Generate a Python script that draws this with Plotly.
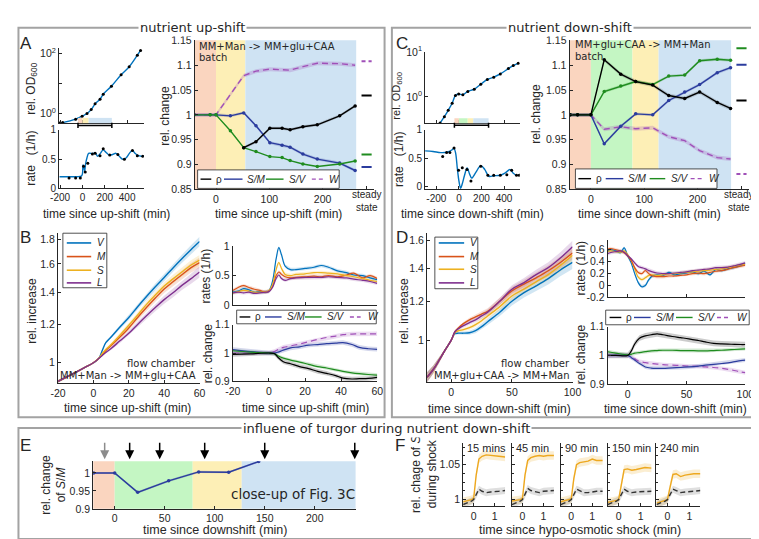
import plotly.graph_objects as go

W, H = 759, 539
def fx(px): return px / W
def fy(py): return 1 - py / H

SANS = "Liberation Sans, Arial, sans-serif"
DJV = "DejaVu Sans, sans-serif"
INK = "#262626"
FRAME = "#a3a3a3"

C_RHO, C_SM, C_SV, C_W = "#000000", "#2b3c9e", "#1f8c1f", "#a050b8"
C_V, C_M, C_S, C_L = "#0072BD", "#D95319", "#EDB120", "#7E2F8E"
C_FS, C_FD = "#EDA820", "#333333"
BG_OR, BG_YE, BG_BL, BG_GR = "#fad5bf", "#fdefb6", "#cfe3f3", "#c4f6c3"

# ---------------- data ----------------
up_edges = [-40, 0, 55, 263]
up_cols = [BG_OR, BG_YE, BG_BL]
down_edges = [-40, 0, 78, 127, 263]
down_cols = [BG_OR, BG_GR, BG_YE, BG_BL]

# A: batch up-shift
tA_od = [-205, -177, -61, -3, 41, 78, 113, 157, 186, 259, 346, 418, 491, 520]
odA = [0.48, 0.50, 0.65, 0.81, 1.0, 1.35, 2.1, 3.0, 4.4, 8.1, 19.5, 36, 87, 126]
tA_rate = [-205, -150, -100, -50, -10, 0, 5, 12, 20, 28, 40, 55, 75, 95, 115, 135, 160, 185,
           210, 240, 270, 300, 330, 360, 390, 420, 447, 470, 500, 530, 550]
rateA = [0.2, 0.2, 0.2, 0.2, 0.21, 0.25, 0.4, 0.36, 0.3, 0.42, 0.52, 0.6, 0.6, 0.6, 0.61, 0.55,
         0.6, 0.66, 0.62, 0.57, 0.58, 0.6, 0.55, 0.5, 0.52, 0.6, 0.65, 0.6, 0.56, 0.55, 0.55]
tA_rdot = [-120, -61, -19, 10, 25, 48, 89, 113, 157, 186, 244, 317, 375, 447, 491, 540]
rateA_dot = [0.18, 0.18, 0.18, 0.38, 0.28, 0.43, 0.59, 0.6, 0.56, 0.68, 0.57, 0.58, 0.5, 0.65, 0.56, 0.55]

tA = [-41, -11, 0, 27, 52, 75, 101, 124, 139, 163, 190, 232, 261]
tA_rho = [52, 75, 101, 124, 139, 163, 190, 232, 261]
rhoA = [0.934, 0.946, 0.973, 0.973, 0.970, 0.976, 0.980, 0.998, 1.018]
smA = [1.0, 1.0, 1.0, 0.998, 1.004, 0.978, 0.944, 0.939, 0.935, 0.921, 0.911, 0.903, 0.888]
svA = [1.0, 1.0, 1.0, 0.968, 0.934, 0.926, 0.916, 0.914, 0.908, 0.901, 0.896, 0.901, 0.907]
tA_w = [-41, -11, 0, 52, 75, 101, 124, 139, 163, 190, 232, 261]
wA = [1.0, 1.0, 1.0, 1.079, 1.088, 1.092, 1.091, 1.090, 1.097, 1.104, 1.103, 1.100]
steady_t = [273, 292]
steadyA = [1.039, 0.895, 0.920, 1.108]   # rho, S/M, S/V, W

# C: batch down-shift
tC_od = [-167, -129, -95, -60, -31, -2, 35, 79, 136, 194, 252, 309, 367, 439, 482, 526]
odC = [0.26, 0.36, 0.50, 0.72, 1.07, 1.16, 1.12, 1.32, 1.48, 1.91, 2.45, 2.75, 3.24, 4.27, 5.0, 5.6]
tC_rate = [-300, -230, -160, -100, -60, -45, -30, -14, 0, 15, 30, 50, 73, 95, 113, 150, 194, 230,
           266, 310, 367, 410, 454, 480, 510, 530]
rateC = [0.63, 0.62, 0.6, 0.61, 0.65, 0.68, 0.6, 0.32, 0.1, -0.03, 0.05, 0.2, 0.33, 0.22, 0.15,
         0.25, 0.37, 0.3, 0.18, 0.19, 0.2, 0.24, 0.3, 0.24, 0.2, 0.2]
tC_rdot = [-144, -109, -80, -43, -3, 30, 72, 107, 194, 257, 309, 367, 425, 468, 511, 535]
rateC_dot = [0.53, 0.6, 0.6, 0.68, 0.29, 0.33, 0.3, 0.1, 0.36, 0.2, 0.2, 0.2, 0.21, 0.29, 0.2, 0.2]

tC = [-39, -25, 0, 25, 56, 84, 116, 146, 176, 204, 237, 262]
rhoC = [1.0, 1.0, 1.0, 1.111, 1.082, 1.067, 1.060, 1.039, 1.033, 1.046, 1.025, 1.013]
svC = [1.0, 1.0, 1.0, 1.047, 1.058, 1.067, 1.061, 1.078, 1.080, 1.109, 1.112, 1.110]
smC = [1.0, 1.0, 1.0, 0.942, 0.977, 1.002, 1.0, 1.029, 1.046, 1.061, 1.085, 1.095]
wC = [1.0, 1.0, 1.0, 0.971, 0.976, 0.972, 0.974, 0.956, 0.948, 0.928, 0.914, 0.911]
steadyC = [1.029, 1.101, 1.134, 0.881]

# B: flow chamber up-shift
tB = [-20, -15, -10, -5, 0, 3, 5, 7, 10, 15, 20, 25, 30, 35, 40, 45, 50, 55, 60]
V_B = [0.915, 0.935, 0.955, 0.977, 1.0, 1.02, 1.06, 1.10, 1.13, 1.185, 1.24, 1.305, 1.37, 1.435, 1.50, 1.57, 1.64, 1.71, 1.78]
M_B = [0.915, 0.935, 0.955, 0.977, 1.0, 1.02, 1.04, 1.06, 1.085, 1.13, 1.18, 1.24, 1.30, 1.36, 1.42, 1.47, 1.52, 1.57, 1.61]
S_B = [0.915, 0.935, 0.955, 0.977, 1.0, 1.02, 1.045, 1.065, 1.09, 1.14, 1.195, 1.255, 1.32, 1.38, 1.44, 1.49, 1.54, 1.59, 1.63]
L_B = [0.915, 0.935, 0.955, 0.977, 1.0, 1.02, 1.035, 1.05, 1.07, 1.11, 1.15, 1.2, 1.25, 1.3, 1.35, 1.395, 1.445, 1.49, 1.54]
errB = [0.006, 0.005, 0.004, 0.002, 0.0, 0.002, 0.004, 0.006, 0.008, 0.011, 0.014, 0.017, 0.02, 0.023, 0.026, 0.029, 0.032, 0.036, 0.04]

tB_r = [-20, -17, -14, -11, -8, -5, -2, 0, 2, 4, 5.5, 7, 9, 12, 15, 20, 25, 29, 33, 38, 43, 47, 52, 56, 60]
V_Br = [0.22, 0.24, 0.28, 0.26, 0.22, 0.23, 0.22, 0.24, 0.4, 0.78, 0.97, 0.85, 0.66, 0.6, 0.6, 0.62, 0.64, 0.67, 0.64, 0.58, 0.55, 0.51, 0.5, 0.46, 0.43]
M_Br = [0.25, 0.3, 0.33, 0.3, 0.27, 0.25, 0.22, 0.24, 0.32, 0.5, 0.56, 0.52, 0.48, 0.46, 0.47, 0.48, 0.49, 0.48, 0.5, 0.48, 0.51, 0.54, 0.46, 0.5, 0.45]
S_Br = [0.21, 0.23, 0.25, 0.24, 0.22, 0.22, 0.23, 0.24, 0.35, 0.6, 0.72, 0.62, 0.52, 0.5, 0.52, 0.53, 0.55, 0.55, 0.54, 0.53, 0.5, 0.48, 0.45, 0.42, 0.4]
L_Br = [0.21, 0.22, 0.21, 0.22, 0.2, 0.21, 0.22, 0.23, 0.3, 0.45, 0.51, 0.45, 0.42, 0.45, 0.46, 0.47, 0.47, 0.47, 0.48, 0.47, 0.46, 0.44, 0.42, 0.4, 0.37]

tB_c = [-20, -10, 0, 3, 5, 8, 12, 17, 22, 27, 32, 37, 41, 46, 50, 55, 60]
rho_Bc = [0.995, 0.997, 1.0, 0.998, 0.985, 0.969, 0.962, 0.952, 0.945, 0.935, 0.928, 0.92, 0.911, 0.908, 0.909, 0.91, 0.914]
sm_Bc = [1.012, 1.005, 1.0, 1.0, 1.003, 1.01, 1.018, 1.022, 1.028, 1.03, 1.033, 1.035, 1.037, 1.03, 1.02, 1.015, 1.013]
sv_Bc = [1.008, 1.003, 1.0, 0.998, 0.99, 0.982, 0.975, 0.968, 0.96, 0.952, 0.947, 0.94, 0.935, 0.93, 0.927, 0.924, 0.922]
w_Bc = [1.0, 1.0, 1.0, 1.005, 1.012, 1.02, 1.025, 1.032, 1.04, 1.048, 1.055, 1.06, 1.065, 1.067, 1.068, 1.068, 1.068]

# D: flow chamber down-shift
tD = [-20, -15, -10, -5, 0, 3, 6, 10, 15, 20, 25, 30, 40, 50, 60, 70, 80, 90, 100]
V_D = [0.84, 0.87, 0.91, 0.955, 1.0, 1.03, 1.033, 1.033, 1.035, 1.045, 1.065, 1.09, 1.14, 1.2, 1.25, 1.29, 1.335, 1.39, 1.44]
M_D = [0.84, 0.87, 0.91, 0.955, 1.0, 1.04, 1.06, 1.08, 1.1, 1.115, 1.13, 1.145, 1.2, 1.26, 1.3, 1.34, 1.385, 1.44, 1.505]
S_D = [0.84, 0.87, 0.91, 0.955, 1.0, 1.035, 1.045, 1.05, 1.06, 1.075, 1.095, 1.12, 1.17, 1.23, 1.27, 1.315, 1.36, 1.42, 1.49]
L_D = [0.84, 0.87, 0.91, 0.955, 1.0, 1.04, 1.055, 1.07, 1.085, 1.1, 1.12, 1.14, 1.2, 1.27, 1.31, 1.36, 1.405, 1.47, 1.55]
errD = [0.02, 0.016, 0.012, 0.006, 0.0, 0.004, 0.006, 0.008, 0.01, 0.012, 0.014, 0.016, 0.02, 0.024, 0.028, 0.032, 0.036, 0.04, 0.044]

tD_r = [-20, -15, -10, -6, -3, 0, 3, 6, 9, 12, 15, 18, 21, 25, 30, 35, 40, 45, 50, 55, 60, 65, 70, 75, 80, 85, 90, 95, 100]
V_Dr = [0.52, 0.6, 0.58, 0.55, 0.63, 0.5, 0.38, 0.2, 0.05, -0.02, 0.0, 0.1, 0.16, 0.18, 0.17, 0.22, 0.18, 0.2, 0.21, 0.23, 0.2, 0.24, 0.18, 0.27, 0.25, 0.28, 0.3, 0.33, 0.37]
M_Dr = [0.57, 0.62, 0.6, 0.58, 0.55, 0.5, 0.42, 0.3, 0.22, 0.2, 0.25, 0.2, 0.16, 0.15, 0.15, 0.16, 0.16, 0.17, 0.18, 0.2, 0.21, 0.2, 0.22, 0.24, 0.25, 0.27, 0.3, 0.32, 0.34]
S_Dr = [0.55, 0.58, 0.57, 0.56, 0.58, 0.52, 0.42, 0.28, 0.14, 0.1, 0.13, 0.17, 0.18, 0.17, 0.18, 0.2, 0.2, 0.21, 0.22, 0.23, 0.24, 0.25, 0.26, 0.27, 0.28, 0.3, 0.32, 0.34, 0.36]
L_Dr = [0.5, 0.55, 0.57, 0.58, 0.56, 0.5, 0.45, 0.38, 0.32, 0.3, 0.28, 0.25, 0.23, 0.21, 0.2, 0.2, 0.21, 0.22, 0.23, 0.25, 0.26, 0.27, 0.28, 0.3, 0.3, 0.31, 0.33, 0.35, 0.38]

tD_c = [-20, -10, 0, 3, 6, 10, 15, 20, 25, 30, 38, 45, 52, 60, 66, 73, 80, 88, 96, 100]
rho_Dc = [1.0, 1.0, 1.0, 1.015, 1.04, 1.06, 1.068, 1.072, 1.075, 1.072, 1.066, 1.062, 1.058, 1.052, 1.047, 1.042, 1.04, 1.039, 1.038, 1.038]
sv_Dc = [1.015, 1.008, 1.002, 1.004, 1.008, 1.01, 1.013, 1.016, 1.017, 1.018, 1.018, 1.017, 1.017, 1.016, 1.016, 1.017, 1.018, 1.02, 1.022, 1.023]
sm_Dc = [1.0, 1.0, 1.0, 0.993, 0.984, 0.972, 0.96, 0.956, 0.955, 0.955, 0.957, 0.958, 0.96, 0.963, 0.966, 0.969, 0.972, 0.976, 0.982, 0.984]
w_Dc = [1.0, 1.0, 1.0, 0.995, 0.988, 0.979, 0.975, 0.972, 0.97, 0.968, 0.966, 0.965, 0.963, 0.962, 0.96, 0.958, 0.955, 0.95, 0.943, 0.94]

# E: close-up of S/M
tE = [-21, 0, 23, 54, 84, 114, 144]
smE = [1.0, 1.0, 0.946, 0.978, 1.003, 1.002, 1.032]
arrows_E = [-10, 15, 45, 90, 150, 240]

# F: hypo-osmotic shocks
F_titles = ["15 mins", "45 min", "90 min", "150 min", "240 min"]
tF = [-0.5, -0.3, -0.1, 0.0, 0.12, 0.25, 0.4, 0.6, 0.8, 1.0, 1.2, 1.5]
S_F = [
    [0.997, 0.998, 1.0, 1.002, 1.035, 1.058, 1.062, 1.064, 1.063, 1.062, 1.062, 1.061],
    [0.998, 0.999, 1.0, 1.002, 1.035, 1.056, 1.060, 1.062, 1.063, 1.062, 1.063, 1.063],
    [0.997, 0.999, 1.0, 1.001, 1.030, 1.050, 1.053, 1.054, 1.055, 1.058, 1.056, 1.056],
    [0.996, 0.997, 0.999, 1.0, 1.022, 1.043, 1.044, 1.042, 1.043, 1.045, 1.046, 1.045],
    [0.995, 0.997, 0.999, 1.0, 1.018, 1.036, 1.037, 1.033, 1.035, 1.036, 1.037, 1.037],
]
D_F = [
    [0.993, 0.995, 0.998, 1.0, 1.008, 1.015, 1.012, 1.010, 1.011, 1.012, 1.012, 1.013],
    [0.993, 0.995, 0.998, 1.0, 1.008, 1.016, 1.013, 1.011, 1.010, 1.012, 1.012, 1.013],
    [0.993, 0.995, 0.998, 1.0, 1.008, 1.015, 1.013, 1.010, 1.010, 1.011, 1.012, 1.012],
    [0.993, 0.995, 0.998, 1.0, 1.008, 1.015, 1.012, 1.010, 1.011, 1.011, 1.012, 1.012],
    [0.993, 0.995, 0.998, 1.0, 1.008, 1.015, 1.013, 1.010, 1.011, 1.012, 1.012, 1.013],
]

# ---------------- helpers ----------------
def rgba(hexc, a):
    h = hexc.lstrip('#')
    return f"rgba({int(h[0:2],16)},{int(h[2:4],16)},{int(h[4:6],16)},{a})"

fig = go.Figure()
shapes, anns, lay = [], [], {}
AX = dict(showline=True, linecolor=INK, linewidth=1, ticks="inside", ticklen=3, tickcolor=INK,
          tickwidth=1, showgrid=False, zeroline=False, fixedrange=True)

def sid(i): return "" if i == 1 else str(i)

def add_axes(i, xpx, ypx, xr, yr, xt, yt, ylog=False, yminor=None, fs=10.5):
    s = sid(i)
    tf = dict(family=SANS, size=fs, color=INK)
    xa = dict(AX, domain=[fx(xpx[0]), fx(xpx[1])], range=xr, anchor="y" + s, tickfont=tf,
              tickmode="array", tickvals=xt[0], ticktext=xt[1])
    ya = dict(AX, domain=[fy(ypx[1]), fy(ypx[0])], range=yr, anchor="x" + s, tickfont=tf,
              type="log" if ylog else "linear", tickmode="array", tickvals=yt[0], ticktext=yt[1])
    if yminor:
        ya["minor"] = dict(tickmode="array", tickvals=yminor, ticks="inside", ticklen=2, tickcolor=INK)
    lay["xaxis" + s] = xa
    lay["yaxis" + s] = ya

def tr(i, x, y, color, width=1.4, dash="solid", mode="lines", msize=3.5, mcolor=None, shape="linear"):
    s = sid(i)
    fig.add_trace(go.Scatter(x=x, y=y, mode=mode, xaxis="x" + s, yaxis="y" + s,
                             line=dict(color=color, width=width, dash=dash, shape=shape),
                             marker=dict(size=msize, color=mcolor or color),
                             showlegend=False, hoverinfo="skip"))

def band(i, x, y, e, color, alpha=0.2):
    s = sid(i)
    es = e if isinstance(e, list) else [e] * len(y)
    up = [v + d for v, d in zip(y, es)]
    lo = [v - d for v, d in zip(y, es)]
    fig.add_trace(go.Scatter(x=list(x) + list(x)[::-1], y=up + lo[::-1], fill="toself",
                             fillcolor=rgba(color, alpha), line=dict(width=0), mode="lines",
                             xaxis="x" + s, yaxis="y" + s, showlegend=False, hoverinfo="skip"))

def phases(i, edges, cols, xr, y0=0, y1=1):
    s = sid(i)
    for k, c in enumerate(cols):
        a, b = max(edges[k], xr[0]), min(edges[k + 1], xr[1])
        if b > a:
            shapes.append(dict(type="rect", xref="x" + s, yref=f"y{s} domain", x0=a, x1=b,
                               y0=y0, y1=y1, fillcolor=c, line=dict(width=0), layer="below"))

def text(t, x, y, size=10.5, family=SANS, xa="center", ya="middle", angle=0, color=INK, bg=None):
    d = dict(text=t, x=fx(x), y=fy(y), xref="paper", yref="paper", showarrow=False,
             xanchor=xa, yanchor=ya, textangle=angle, font=dict(family=family, size=size, color=color))
    if bg:
        d.update(bgcolor=bg, borderpad=1)
    anns.append(d)

def pline(x0, y0, x1, y1, color=INK, width=1, dash="solid"):
    shapes.append(dict(type="line", xref="paper", yref="paper", x0=fx(x0), y0=fy(y0), x1=fx(x1),
                       y1=fy(y1), line=dict(color=color, width=width, dash=dash)))

def prect(x0, y0, x1, y1, color=INK, width=1, fill=None):
    shapes.append(dict(type="rect", xref="paper", yref="paper", x0=fx(x0), y0=fy(y1), x1=fx(x1),
                       y1=fy(y0), line=dict(color=color, width=width),
                       fillcolor=fill if fill else "rgba(0,0,0,0)"))

def legend_row(box, yc, items):
    prect(*box, color=INK, width=0.8, fill="white")
    for lx0, lx1, col, dash, lab, tx in items:
        pline(lx0, yc, lx1, yc, col, 1.4, "4px,3px" if dash else "solid")
        text(lab, tx, yc, size=10, xa="left")

def legend_col(box, lx0, lx1, tx, ys, items):
    prect(*box, color=INK, width=0.8, fill="white")
    for yc, (col, lab) in zip(ys, items):
        pline(lx0, yc, lx1, yc, col, 1.6)
        text(lab, tx, yc, size=10, xa="left")

def od_strip(i, edges, cols, xr):
    s = sid(i)
    phases(i, edges, cols, xr, 0, 0.07)
    for k in range(len(cols)):
        shapes[-1 - k]["layer"] = "above"
    for (x0, x1, y0, y1) in [(edges[0], edges[-1], -0.03, -0.03), (edges[0], edges[0], -0.065, 0.005),
                             (edges[-1], edges[-1], -0.065, 0.005)]:
        shapes.append(dict(type="line", xref="x" + s, yref=f"y{s} domain", x0=x0, x1=x1, y0=y0, y1=y1,
                           line=dict(color="black", width=1.5)))

rel_ticks = ([0.85, 0.9, 0.95, 1, 1.05, 1.1, 1.15], ["0.85", "0.9", "0.95", "1", "1.05", "1.1", "1.15"])
shift_ticks = ([0, 100, 200, 283], ["0", "100", "200", ""])
batch_ticks = ([-200, 0, 200, 400], ["-200", "0", "200", "400"])
none_x = ([-200, 0, 200, 400], ["", "", "", ""])

# ---------------- panel A ----------------
xrA = [-210, 550]
add_axes(1, (43, 130), (33, 110), xrA, [-0.32, 2.175], none_x, ([1, 10, 100], ["10<sup>0</sup>", "", "10<sup>2</sup>"]), ylog=True)
tr(1, tA_od, odA, C_V, 1.4, shape="spline")
tr(1, tA_od, odA, "black", mode="markers", msize=3)
od_strip(1, up_edges, up_cols, xrA)
add_axes(2, (43, 130), (117, 177), xrA, [0, 1], batch_ticks, ([0, 0.5, 1], ["0", "0.5", "1"]), fs=10)
tr(2, tA_rate, rateA, C_V, 1.4, shape="spline")
tr(2, tA_rdot, rateA_dot, "black", mode="markers", msize=3)

xrR = [-40, 297]
add_axes(3, (182, 366), (25, 178), xrR, [0.85, 1.15], shift_ticks, rel_ticks)
phases(3, up_edges, up_cols, xrR)
band(3, tA_w, wA, 0.004, C_W, 0.25)
band(3, tA, smA, 0.003, C_SM, 0.2)
band(3, tA_rho, rhoA, 0.003, "#000000", 0.15)
tr(3, tA_w, wA, C_W, 1.4, dash="6px,4px")
tr(3, tA, smA, C_SM, 1.4, mode="lines+markers", msize=3.5)
tr(3, tA, svA, C_SV, 1.4, mode="lines+markers", msize=3.5)
tr(3, tA_rho, rhoA, C_RHO, 1.4, mode="lines+markers", msize=3.5)
for v, c, d in zip(steadyA, [C_RHO, C_SM, C_SV, C_W], ["solid", "solid", "solid", "4px,3px"]):
    tr(3, steady_t, [v, v], c, 2, dash=d)
text("MM+Man -> MM+glu+CAA", 184, 31, 10, DJV, xa="left")
text("batch", 184, 43, 10, DJV, xa="left")
text("steady<br>state", 358, 190, 10)
legend_row((185, 158, 330, 177), 167.5, [(188, 199, C_RHO, False, "ρ", 202), (212, 231, C_SM, False, "<i>S/M</i>", 234),
                                        (255, 273, C_SV, False, "<i>S/V</i>", 277), (302, 314, C_W, True, "<i>W</i>", 318)])

# ---------------- panel C ----------------
xrC = [-300, 540]
add_axes(4, (418, 515), (37, 110), xrC, [-0.587, 1.0], ([-200, 0, 200, 400], ["", "", "", ""]), ([1, 10], ["10<sup>0</sup>", "10<sup>1</sup>"]), ylog=True)
tr(4, tC_od, odC, C_V, 1.4, shape="spline")
tr(4, tC_od, odC, "black", mode="markers", msize=3)
od_strip(4, down_edges, down_cols, xrC)
add_axes(5, (418, 515), (117, 178), xrC, [-0.05, 1], batch_ticks, ([0, 0.5, 1], ["0", "0.5", "1"]), fs=10)
tr(5, tC_rate, rateC, C_V, 1.4, shape="spline")
tr(5, tC_rdot, rateC_dot, "black", mode="markers", msize=3)

add_axes(6, (566, 750), (25, 178), xrR, [0.85, 1.15], shift_ticks, rel_ticks)
phases(6, down_edges, down_cols, xrR)
band(6, tC, wC, 0.004, C_W, 0.25)
band(6, tC, rhoC, 0.004, "#000000", 0.15)
band(6, tC, smC, 0.003, C_SM, 0.2)
band(6, tC, svC, 0.003, C_SV, 0.2)
tr(6, tC, wC, C_W, 1.4, dash="6px,4px")
tr(6, tC, smC, C_SM, 1.4, mode="lines+markers", msize=3.5)
tr(6, tC, svC, C_SV, 1.4, mode="lines+markers", msize=3.5)
tr(6, tC, rhoC, C_RHO, 1.4, mode="lines+markers", msize=3.5)
for v, c, d in zip(steadyC, [C_RHO, C_SM, C_SV, C_W], ["solid", "solid", "solid", "4px,3px"]):
    tr(6, steady_t, [v, v], c, 2, dash=d)
text("MM+glu+CAA -> MM+Man", 569, 29, 10, DJV, xa="left")
text("batch", 569, 42, 10, DJV, xa="left")
text("steady<br>state", 739, 190, 10)
legend_row((572, 157, 717, 177), 167, [(575, 588, C_RHO, False, "ρ", 591), (603, 621, C_SM, False, "<i>S/M</i>", 624),
                                       (648, 664, C_SV, False, "<i>S/V</i>", 668), (690, 703, C_W, True, "<i>W</i>", 707)])

# ---------------- panel B ----------------
add_axes(7, (42, 187), (223, 377), [-20, 60], [-0.0423, 0.2676],
         ([-20, 0, 20, 40, 60], ["-20", "0", "20", "40", "60"]),
         ([1, 1.2, 1.4, 1.6, 1.8], ["1", "1.2", "1.4", "1.6", "1.8"]), ylog=True)
for ser, col in [(L_B, C_L), (M_B, C_M), (S_B, C_S), (V_B, C_V)]:
    band(7, tB, ser, errB, col, 0.18)
for ser, col in [(V_B, C_V), (M_B, C_M), (S_B, C_S), (L_B, C_L)]:
    tr(7, tB, ser, col, 1.4, shape="spline")
legend_col((47, 223, 92, 279), 51, 76, 80, [233, 247, 261, 274],
           [(C_V, "<i>V</i>"), (C_M, "<i>M</i>"), (C_S, "<i>S</i>"), (C_L, "<i>L</i>")])
text("flow chamber", 185, 357, 10, DJV, xa="right")
text("MM+Man -> MM+glu+CAA", 185, 369, 10, DJV, xa="right")

fl_ticks = ([-20, 0, 20, 40, 60], ["-20", "0", "20", "40", "60"])
add_axes(8, (221, 369), (236, 297), [-20, 60], [0, 1], ([-20, 0, 20, 40, 60], [""] * 5), ([0, 0.5, 1], ["0", "0.5", "1"]))
for ser, col in [(V_Br, C_V), (M_Br, C_M), (S_Br, C_S), (L_Br, C_L)]:
    band(8, tB_r, ser, 0.03, col, 0.18)
for ser, col in [(V_Br, C_V), (M_Br, C_M), (S_Br, C_S), (L_Br, C_L)]:
    tr(8, tB_r, ser, col, 1.2, shape="spline")

add_axes(9, (221, 369), (317, 375), [-20, 60], [0.9, 1.1], fl_ticks, ([0.9, 1, 1.1], ["0.9", "1", "1.1"]))
for ser, col, e in [(w_Bc, C_W, 0.008), (sm_Bc, C_SM, 0.008), (sv_Bc, C_SV, 0.006), (rho_Bc, "#000000", 0.008)]:
    band(9, tB_c, ser, e, col, 0.2)
tr(9, tB_c, w_Bc, C_W, 1.2, dash="6px,4px", shape="spline")
tr(9, tB_c, sm_Bc, C_SM, 1.2, shape="spline")
tr(9, tB_c, sv_Bc, C_SV, 1.2, shape="spline")
tr(9, tB_c, rho_Bc, C_RHO, 1.2, shape="spline")
legend_row((225, 302, 368, 316), 309, [(228, 239, C_RHO, False, "ρ", 242), (254, 271, C_SM, False, "<i>S/M</i>", 274),
                                       (295, 312, C_SV, False, "<i>S/V</i>", 315), (341, 352, C_W, True, "<i>W</i>", 357)])

# ---------------- panel D ----------------
add_axes(10, (420, 569), (223, 376), [-20, 100], [-0.086, 0.218],
         ([0, 50, 100], ["0", "50", "100"]), ([1, 1.2, 1.4, 1.6], ["1", "1.2", "1.4", "1.6"]), ylog=True)
for ser, col in [(V_D, C_V), (S_D, C_S), (M_D, C_M), (L_D, C_L)]:
    band(10, tD, ser, errD, col, 0.18)
for ser, col in [(V_D, C_V), (S_D, C_S), (M_D, C_M), (L_D, C_L)]:
    tr(10, tD, ser, col, 1.4, shape="spline")
legend_col((428, 227, 472, 280), 432, 458, 462, [233, 247, 260, 274],
           [(C_V, "<i>V</i>"), (C_M, "<i>M</i>"), (C_S, "<i>S</i>"), (C_L, "<i>L</i>")])
text("flow chamber", 568, 357, 10, DJV, xa="right")
text("MM+glu+CAA -> MM+Man", 568, 369, 10, DJV, xa="right")

add_axes(11, (605, 746), (230, 289), [-17, 100], [-0.2, 0.763], ([0, 50, 100], ["", "", ""]),
         ([-0.2, 0, 0.2, 0.4, 0.6], ["-0.2", "0", "0.2", "0.4", "0.6"]))
for ser, col in [(V_Dr, C_V), (M_Dr, C_M), (S_Dr, C_S), (L_Dr, C_L)]:
    band(11, tD_r, ser, 0.03, col, 0.18)
for ser, col in [(V_Dr, C_V), (S_Dr, C_S), (M_Dr, C_M), (L_Dr, C_L)]:
    tr(11, tD_r, ser, col, 1.2, shape="spline")

add_axes(12, (605, 746), (319, 378), [-17, 100], [0.9, 1.1], ([0, 50, 100], ["0", "50", "100"]),
         ([0.9, 1, 1.1], ["0.9", "1", "1.1"]))
for ser, col, e in [(rho_Dc, "#000000", 0.01), (w_Dc, C_W, 0.007), (sm_Dc, C_SM, 0.007), (sv_Dc, C_SV, 0.006)]:
    band(12, tD_c, ser, e, col, 0.2)
tr(12, tD_c, w_Dc, C_W, 1.2, dash="6px,4px", shape="spline")
tr(12, tD_c, sm_Dc, C_SM, 1.2, shape="spline")
tr(12, tD_c, sv_Dc, C_SV, 1.2, shape="spline")
tr(12, tD_c, rho_Dc, C_RHO, 1.2, shape="spline")
legend_row((603, 302, 750, 317), 309.5, [(607, 619, C_RHO, False, "ρ", 622), (632, 649, C_SM, False, "<i>S/M</i>", 652),
                                         (675, 692, C_SV, False, "<i>S/V</i>", 695), (717, 730, C_W, True, "<i>W</i>", 735)])

# ---------------- panel E ----------------
xrE = [-21.5, 241]
add_axes(13, (78, 347), (457, 506), xrE, [0.9, 1.033], ([0, 50, 100, 150, 200], ["0", "50", "100", "150", "200"]),
         ([0.9, 0.95, 1], ["0.9", "0.95", "1"]))
phases(13, down_edges, down_cols, xrE)
band(13, tE, smE, 0.003, C_SM, 0.25)
tr(13, tE, smE, C_SM, 1.5, mode="lines+markers", msize=3.5)
text("close-up of Fig. 3C", 217, 491, 13.5, DJV, xa="left")
for k, t in enumerate(arrows_E):
    anns.append(dict(x=t, y=fy(455), xref="x13", yref="paper", text="", showarrow=True, ax=0, ay=-18,
                     arrowhead=2, arrowsize=1.2, arrowwidth=1.5, font=dict(size=10),
                     arrowcolor="#8c8c8c" if k == 0 else "black"))

# ---------------- panel F ----------------
F_x = [(457, 500), (507, 550), (557, 600), (605, 650), (655, 700)]
for k, (xp, title) in enumerate(zip(F_x, F_titles)):
    i = 14 + k
    add_axes(i, xp, (438, 503), [-0.5, 1.5], [0.991, 1.0815], ([0, 1], ["0", "1"]),
             ([1, 1.05], ["1", "1.05"] if k == 0 else ["", ""]), yminor=[1.0125, 1.025, 1.0375, 1.0625, 1.075])
    band(i, tF, S_F[k], 0.006, C_FS, 0.2)
    band(i, tF, D_F[k], 0.005, "#808080", 0.25)
    tr(i, tF, S_F[k], C_FS, 1.4)
    tr(i, tF, D_F[k], C_FD, 1.4, dash="5px,3px")
    text(title, xp[0] + 2, 444, 11, SANS, xa="left")

# ---------------- axis labels ----------------
text("rel. OD<sub>600</sub>", 15, 75, 12, angle=-90)
text("rate\u00a0\u00a0\u00a0(1/h)", 15, 146, 12, angle=-90)
text("time since up-shift (min)", 92, 203, 12)
text("rel. change", 152, 102, 12, angle=-90)
text("time since up-shift (min)", 268, 203, 12)
text("rel. OD<sub>600</sub>", 389, 82, 11, angle=-90)
text("rate\u00a0\u00a0\u00a0(1/h)", 391, 147, 12, angle=-90)
text("time since down-shift (min)", 467, 203, 12)
text("rel. change", 532, 100, 12, angle=-90)
text("time since down-shift (min)", 648, 203, 12)
text("rel. increase", 16, 303, 12, angle=-90)
text("rates (1/h)", 194, 267, 12, angle=-90)
text("rel. change", 196, 346, 12, angle=-90)
text("time since up-shift (min)", 113, 402, 12)
text("time since up-shift (min)", 295, 402, 12)
text("rel. increase", 397, 303, 12, angle=-90)
text("rates (1/h)", 578, 259, 12, angle=-90)
text("rel. change", 578, 347, 12, angle=-90)
text("time since down-shift (min)", 494, 403, 12)
text("time since down-shift (min)", 675, 403, 12)
text("rel. change<br>of <i>S</i>/<i>M</i>", 37, 481, 12, angle=-90)
text("time since downshift (min)", 203, 528, 12.5)
text("rel. chage of <i>S</i><br>during shock", 417, 471, 12, angle=-90)
text("time since hypo-osmotic shock (min)", 577, 528, 12.5)

# panel letters
for lab, x, y in [("A", 9, 28), ("B", 9, 227), ("C", 394, 28), ("D", 394, 227), ("E", 9, 441), ("F", 392, 441)]:
    text(lab, x, y, 17)

# frames + titles
prect(1.5, 12, 376.5, 412, FRAME, 2)
prect(384, 12, 757, 412, FRAME, 2)
prect(1.5, 423, 757, 537, FRAME, 2)
text("nutrient up-shift", 180, 12, 13, DJV, bg="white")
text("nutrient down-shift", 566, 12, 13, DJV, bg="white")
text("influene of turgor during nutrient down-shift", 378, 423, 13, DJV, bg="white")

fig.update_layout(width=W, height=539, autosize=False, margin=dict(l=0, r=0, t=0, b=0),
                  paper_bgcolor="white", plot_bgcolor="rgba(0,0,0,0)", showlegend=False,
                  shapes=shapes, annotations=anns, font=dict(family=SANS, color=INK), **lay)
fig.write_html("out.html")
